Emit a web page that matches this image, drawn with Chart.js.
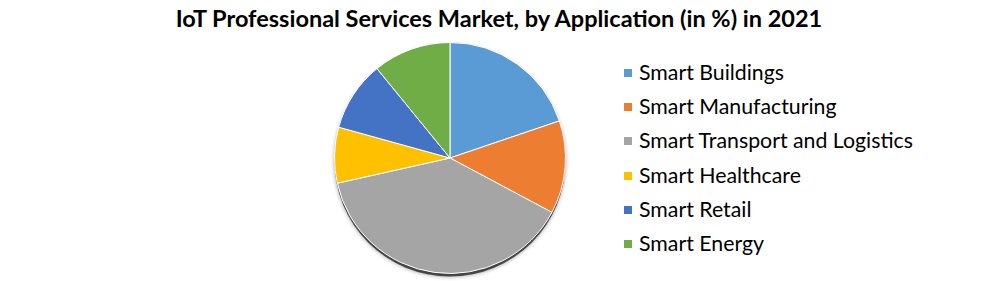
<!DOCTYPE html>
<html>
<head>
<meta charset="utf-8">
<script src="https://cdn.jsdelivr.net/npm/chart.js@4/dist/chart.umd.min.js"></script>
<style>
  html, body { margin: 0; padding: 0; background: #fff; }
  #wrap { position: relative; width: 998px; height: 281px; overflow: hidden; }
  #title {
    position: absolute; left: 0; top: 4px; width: 998px; text-align: center;
    font-family: Lato, "Open Sans", sans-serif; font-weight: bold; font-size: 23.5px; color: #000;
  }
  #pie { position: absolute; left: 321px; top: 27px; }
  #legend {
    position: absolute; left: 624px; top: 57px; margin: 0; padding: 0; list-style: none;
    font-family: Lato, "Open Sans", sans-serif; font-size: 21.3px; color: #000;
  }
  #legend li { height: 34.2px; line-height: 30px; white-space: nowrap; }
  #legend span.box {
    display: inline-block; width: 8px; height: 8px; margin-right: 7px; vertical-align: 3px;
  }
</style>
</head>
<body>
<div id="wrap">
  <div id="title">IoT Professional Services Market, by Application (in %) in 2021</div>
  <div id="pie"><canvas id="chart" width="260" height="254"></canvas></div>
  <ul id="legend"></ul>
</div>
<script>
// shares (in %)
const applications = [
  'Smart Buildings',
  'Smart Manufacturing',
  'Smart Transport and Logistics',
  'Smart Healthcare',
  'Smart Retail',
  'Smart Energy'
];
const shares = [19.8, 13.0, 38.7, 7.8, 9.8, 10.9];
const colors = ['#5b9bd5', '#ed7d31', '#a5a5a5', '#ffc000', '#4472c4', '#70ad47'];

// legend as plain html
const legend = document.getElementById('legend');
applications.forEach((name, i) => {
  const li = document.createElement('li');
  li.innerHTML = `<span class="box" style="background:${colors[i]}"></span>${name}`;
  legend.appendChild(li);
});

// soft drop shadow under the pie, like the excel one
const pieShadow = {
  id: 'pieShadow',
  beforeDatasetsDraw(chart) {
    const arc = chart.getDatasetMeta(0).data[0];
    if (!arc) return;
    const ctx = chart.ctx;
    ctx.save();
    ctx.beginPath();
    ctx.arc(arc.x, arc.y + 3, arc.outerRadius, 0, Math.PI * 2);
    ctx.fillStyle = 'rgba(40,40,40,0.8)';
    ctx.shadowColor = 'rgba(0,0,0,0.5)';
    ctx.shadowBlur = 4;
    ctx.fill();
    ctx.restore();
  }
};

new Chart(document.getElementById('chart'), {
  type: 'pie',
  data: {
    labels: applications,
    datasets: [{
      data: shares,
      backgroundColor: colors,
      borderColor: '#ffffff',
      borderWidth: 1
    }]
  },
  options: {
    responsive: false,
    animation: false,
    layout: { padding: { left: 13, right: 15, top: 15, bottom: 7 } },
    plugins: {
      legend: { display: false },
      tooltip: { enabled: false },
      title: { display: false }
    }
  },
  plugins: [pieShadow]
});
</script>
</body>
</html>
